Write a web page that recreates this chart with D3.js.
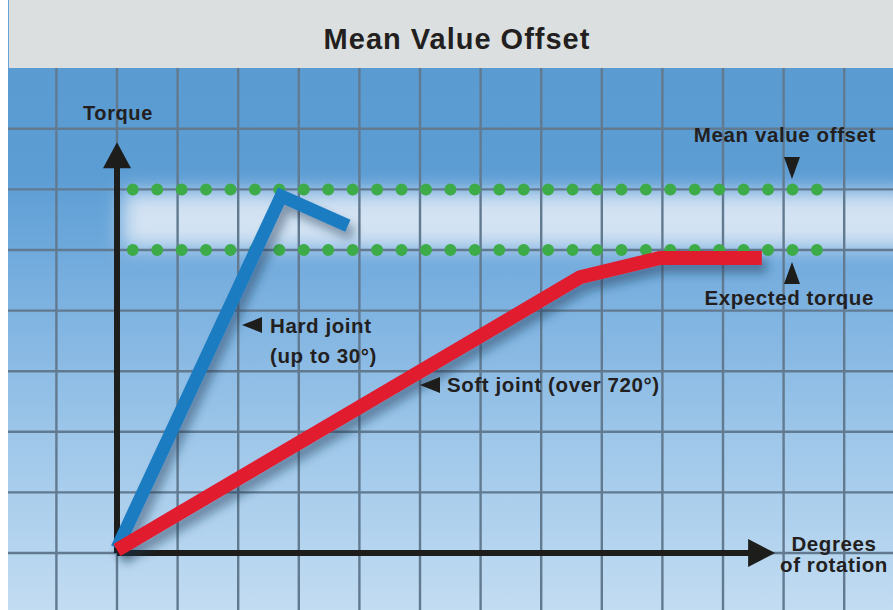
<!DOCTYPE html>
<html>
<head>
<meta charset="utf-8">
<script src="https://cdn.jsdelivr.net/npm/d3@7"></script>
<style>
  body { margin: 0; background: #fff; }
  svg { display: block; }
  text { font-family: "Liberation Sans", Arial, sans-serif; font-weight: bold; fill: #231f20; letter-spacing: 0.6px; }
</style>
</head>
<body>
<svg id="chart"></svg>
<script>
///////////
// DATA  //
///////////

// curves, in grid units (x = rotation, y = torque)
let hardJoint = [[0, 0.08], [2.71, 5.89], [3.81, 5.40]];
let softJoint = [[0, 0.05], [7.64, 4.55], [8.96, 4.87], [10.64, 4.87]];

// dotted reference levels
let levelNames = ["Mean value offset", "Expected torque"];
let levelValues = [6, 5];
let dotSpan = [0.26, 11.55];

// axis extents
let xAxisEnd = 10.86;
let yAxisEnd = 6.78;

///////////
// CHART //
///////////

let width = 893, height = 610;
let titleH = 68;

let svg = d3.select("#chart").attr("width", width).attr("height", height);
let defs = svg.append("defs");

let x = d3.scaleLinear().domain([0, 11]).range([117, 783.6]);
let y = d3.scaleLinear().domain([0, 7]).range([553, 128.8]);

// background gradient
let bg = defs.append("linearGradient")
  .attr("id", "bgGrad")
  .attr("x1", 0).attr("y1", 0).attr("x2", 0).attr("y2", 1);
[[0, "#5a9bd2"], [0.2, "#5c9dd4"], [0.4, "#78afdf"], [0.7, "#a0c8ea"], [1, "#c2dcf2"]]
  .forEach(s => bg.append("stop").attr("offset", s[0]).attr("stop-color", s[1]));

let blur = defs.append("filter").attr("id", "bandBlur")
  .attr("x", "-20%").attr("y", "-100%").attr("width", "140%").attr("height", "300%");
blur.append("feGaussianBlur").attr("stdDeviation", 10);

let shadow = defs.append("filter").attr("id", "shadow")
  .attr("x", "-20%").attr("y", "-20%").attr("width", "150%").attr("height", "150%");
shadow.append("feDropShadow")
  .attr("dx", 5).attr("dy", 8).attr("stdDeviation", 5)
  .attr("flood-color", "#1c3550").attr("flood-opacity", 0.45);

svg.append("rect")
  .attr("x", 8).attr("y", titleH)
  .attr("width", width - 8).attr("height", height - titleH)
  .attr("fill", "url(#bgGrad)");

// whitish band between the two levels
svg.append("rect")
  .attr("x", x(0) + 5).attr("y", y(levelValues[0]) + 2)
  .attr("width", width).attr("height", y(levelValues[1]) - y(levelValues[0]) - 4)
  .attr("fill", "#e6eef8")
  .attr("opacity", 0.85)
  .attr("filter", "url(#bandBlur)");

// grid
let grid = svg.append("g")
  .attr("stroke", "#627a90")
  .attr("stroke-width", 2.4);
grid.selectAll("line.v")
  .data(d3.range(-1, 13))
  .enter().append("line")
  .attr("x1", d => x(d)).attr("x2", d => x(d))
  .attr("y1", titleH).attr("y2", height);
grid.selectAll("line.h")
  .data(d3.range(0, 8))
  .enter().append("line")
  .attr("x1", 8).attr("x2", width)
  .attr("y1", d => y(d)).attr("y2", d => y(d));

// title bar
svg.append("rect")
  .attr("x", 8).attr("y", 0)
  .attr("width", width - 8).attr("height", titleH)
  .attr("fill", "#dcdfe0");
svg.append("line")
  .attr("x1", 8.5).attr("x2", 8.5).attr("y1", 0).attr("y2", titleH)
  .attr("stroke", "#6aa3d6").attr("stroke-width", 1);
svg.append("text")
  .attr("x", 457).attr("y", 49)
  .attr("text-anchor", "middle")
  .style("font-size", "29px")
  .style("letter-spacing", "1px")
  .text("Mean Value Offset");

// dotted levels
svg.selectAll("line.level")
  .data(levelValues)
  .enter().append("line")
  .attr("x1", x(dotSpan[0])).attr("x2", x(dotSpan[1]) + 1)
  .attr("y1", d => y(d)).attr("y2", d => y(d))
  .attr("stroke", "#3dab48")
  .attr("stroke-width", 12)
  .attr("stroke-linecap", "round")
  .attr("stroke-dasharray", `0 ${(x(dotSpan[1]) - x(dotSpan[0])) / 28}`);

// axes
let axes = svg.append("g").attr("fill", "#1d1d1b");
axes.append("line")
  .attr("x1", x(0)).attr("x2", x(0))
  .attr("y1", y(0)).attr("y2", y(yAxisEnd) + 20)
  .attr("stroke", "#1d1d1b").attr("stroke-width", 6);
axes.append("line")
  .attr("x1", x(0)).attr("x2", x(xAxisEnd) - 20)
  .attr("y1", y(0)).attr("y2", y(0))
  .attr("stroke", "#1d1d1b").attr("stroke-width", 6);
axes.append("path")
  .attr("d", `M${x(0)},${y(yAxisEnd)} l14,26 l-28,0 z`);
axes.append("path")
  .attr("d", `M${x(xAxisEnd)},${y(0)} l-27,-14 l0,28 z`);

// curves
let line = d3.line().x(d => x(d[0])).y(d => y(d[1]));
svg.append("path")
  .datum(hardJoint)
  .attr("d", line)
  .attr("fill", "none")
  .attr("stroke", "#1b7cc2")
  .attr("stroke-width", 13)
  .attr("stroke-linejoin", "miter")
  .attr("filter", "url(#shadow)");
svg.append("path")
  .datum(softJoint)
  .attr("d", line)
  .attr("fill", "none")
  .attr("stroke", "#e01a2f")
  .attr("stroke-width", 14)
  .attr("stroke-linejoin", "miter")
  .attr("filter", "url(#shadow)");

// labels
let tri = (cx, cy, dir) => {
  // small pointer triangles
  if (dir == "left") return `M${cx - 10},${cy} l20,-8 l0,16 z`;
  if (dir == "down") return `M${cx},${cy + 11} l-8,-22 l16,0 z`;
  return `M${cx},${cy - 11} l-8,22 l16,0 z`;
};

svg.append("text").attr("x", 83).attr("y", 120).style("font-size", "20px").text("Torque");

svg.append("text").attr("x", 876).attr("y", 142)
  .attr("text-anchor", "end").style("font-size", "20.5px").text(levelNames[0]);
svg.append("path").attr("d", tri(792, 168, "down")).attr("fill", "#1d1d1b");

svg.append("text").attr("x", 874).attr("y", 305)
  .attr("text-anchor", "end").style("font-size", "20.5px").text(levelNames[1]);
svg.append("path").attr("d", tri(792, 273, "up")).attr("fill", "#1d1d1b");

svg.append("path").attr("d", tri(252, 325, "left")).attr("fill", "#1d1d1b");
svg.append("text").attr("x", 270).attr("y", 333).style("font-size", "20.5px").text("Hard joint");
svg.append("text").attr("x", 270).attr("y", 363).style("font-size", "20.5px").text("(up to 30°)");

svg.append("path").attr("d", tri(430, 385, "left")).attr("fill", "#1d1d1b");
svg.append("text").attr("x", 447).attr("y", 392).style("font-size", "20.5px").text("Soft joint (over 720°)");

svg.append("text").attr("x", 834).attr("y", 551)
  .attr("text-anchor", "middle").style("font-size", "20.5px").text("Degrees");
svg.append("text").attr("x", 834).attr("y", 572)
  .attr("text-anchor", "middle").style("font-size", "20.5px").text("of rotation");
</script>
</body>
</html>
